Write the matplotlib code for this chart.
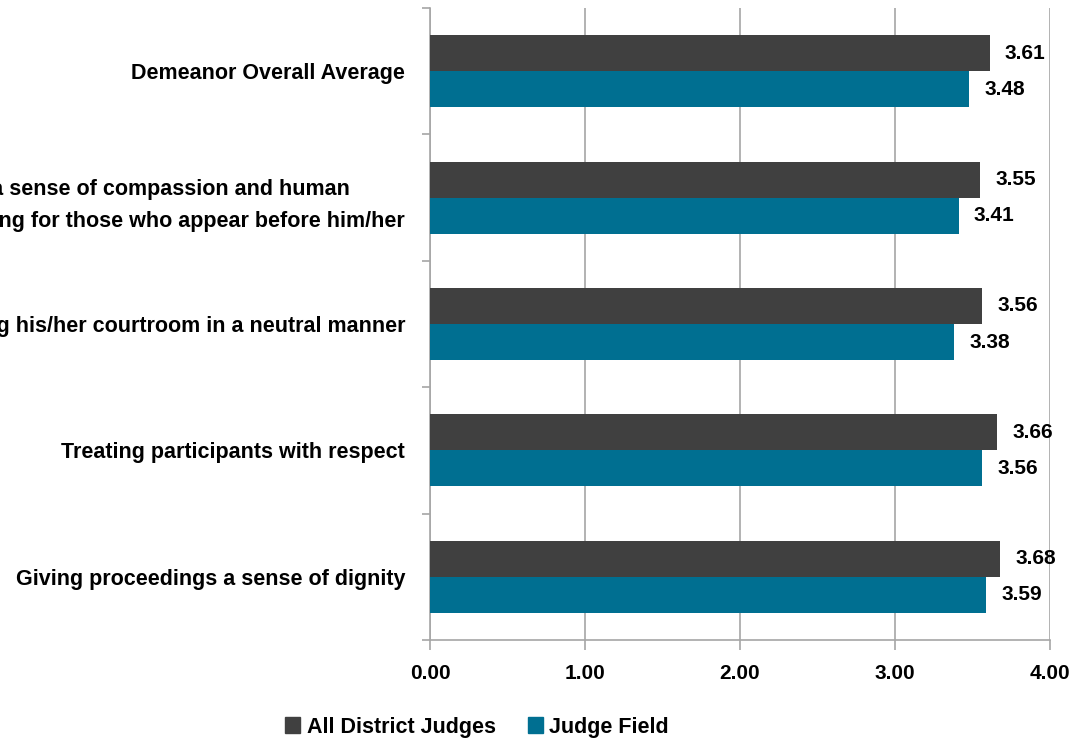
import numpy as np
import matplotlib
matplotlib.use('Agg')
import matplotlib.pyplot as plt
from matplotlib.patches import Patch

categories = [
    'Demeanor Overall Average',
    'Conveying a sense of compassion and human\nunderstanding for those who appear before him/her',
    'Conducting his/her courtroom in a neutral manner',
    'Treating participants with respect',
    'Giving proceedings a sense of dignity',
]
all_district = [3.61, 3.55, 3.56, 3.66, 3.68]
judge_field = [3.48, 3.41, 3.38, 3.56, 3.59]
series_names = ['All District Judges', 'Judge Field']
xticks = [0, 1, 2, 3, 4]

DARK = '#404040'
BLUE = '#006f91'
GRID = '#a6a6a6'

plt.rcParams['font.family'] = ['Liberation Sans', 'DejaVu Sans']
plt.rcParams['font.weight'] = 'bold'

fig = plt.figure(figsize=(10.78, 7.42), dpi=100)
ax = fig.add_axes([430/1078, 102/742, 620/1078, 632/742])

y = np.arange(len(categories))
h = 0.285
ax.barh(y - h/2, all_district, height=h, color=DARK, zorder=3)
ax.barh(y + h/2, judge_field, height=h, color=BLUE, zorder=3)

for i in range(len(categories)):
    ax.annotate(f'{all_district[i]:.2f}', (all_district[i], y[i] - h/2), xytext=(11, 0),
                textcoords='offset points', va='center', ha='left', fontsize=15, fontweight='bold')
    ax.annotate(f'{judge_field[i]:.2f}', (judge_field[i], y[i] + h/2), xytext=(11, 0),
                textcoords='offset points', va='center', ha='left', fontsize=15, fontweight='bold')

ax.set_xlim(0, 4)
ax.set_ylim(len(categories) - 0.5, -0.5)
ax.set_xticks(xticks)
ax.set_xticklabels([f'{v:.2f}' for v in xticks], fontsize=15, fontweight='bold')
ax.set_yticks(y)
ax.set_yticklabels(categories, fontsize=15.5, fontweight='bold', ha='right',
                   multialignment='left', linespacing=1.7)
ax.set_yticks(np.arange(-0.5, len(categories)), minor=True)
ax.tick_params(axis='y', which='major', length=0, pad=18)
ax.tick_params(axis='y', which='minor', length=6, color=GRID, width=1.2)
ax.tick_params(axis='x', length=7, color=GRID, width=1.2, pad=10)

ax.grid(axis='x', color=GRID, linewidth=1.2, zorder=0)
for s in ['top', 'right']:
    ax.spines[s].set_visible(False)
for s in ['left', 'bottom']:
    ax.spines[s].set_color(GRID)
    ax.spines[s].set_linewidth(1.2)

handles = [Patch(color=DARK), Patch(color=BLUE)]
fig.legend(handles, series_names, loc='center', bbox_to_anchor=(477/1078, 15/742), ncol=2,
           frameon=False, handlelength=0.7, handleheight=0.7,
           handletextpad=0.3, columnspacing=1.5, prop={'weight': 'bold', 'size': 15.5})

fig.savefig('out.png', dpi=100)
